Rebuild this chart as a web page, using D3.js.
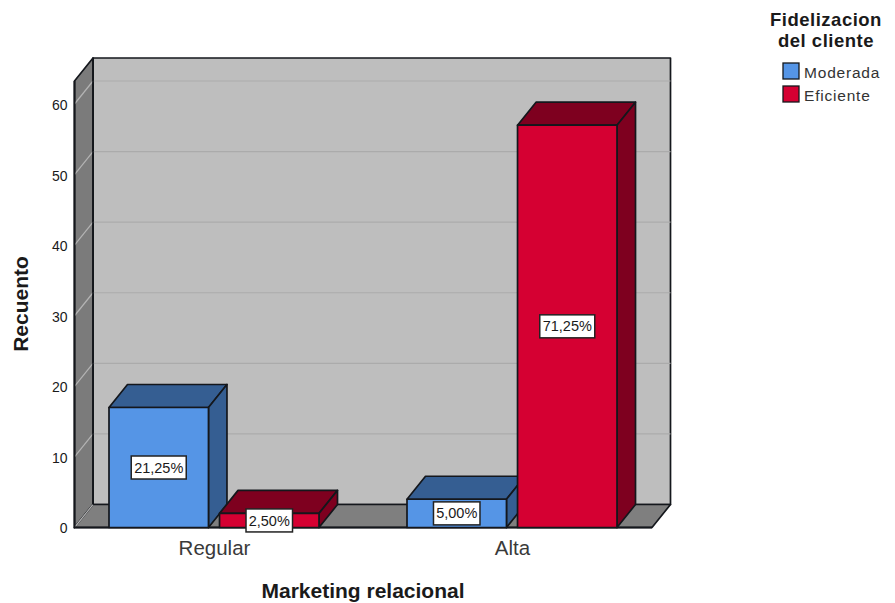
<!DOCTYPE html>
<html>
<head>
<meta charset="utf-8">
<script src="https://cdn.jsdelivr.net/npm/d3@7/dist/d3.min.js"></script>
<style>
html,body{margin:0;padding:0;background:#fff}
svg{display:block}
text{font-family:"Liberation Sans",Arial,sans-serif;fill:#1a1a1a}
</style>
</head>
<body>
<svg id="chart" width="895" height="603"></svg>
<script>
// Counts per marketing level and loyalty group, n = 80
const categories = ["Regular", "Alta"];
const seriesNames = ["Moderada", "Eficiente"];
const moderada = [17, 4];
const eficiente = [2, 57];
const moderadaLabels = ["21,25%", "5,00%"];
const eficienteLabels = ["2,50%", "71,25%"];
const countTicks = [0, 10, 20, 30, 40, 50, 60];
const faceColors = ["#5595E6", "#D50032"];
const shadeColors = ["#355E92", "#7E001F"];

const svg = d3.select("#chart");
const depth = {x: 18.5, y: -23};
const plot = {left: 74.5, right: 652, floor: 527.5, top: 81};

const y = d3.scaleLinear().domain([0, 60]).range([plot.floor, 104]);
const x0 = d3.scalePoint().domain(categories).range([214, 512]);
const x1 = d3.scaleBand().domain(seriesNames).range([-105, 105]).paddingInner(0.1);
const color = d3.scaleOrdinal(seriesNames, faceColors);
const shade = d3.scaleOrdinal(seriesNames, shadeColors);

const outline = "#14171c";
const poly = (pts, fill, stroke = outline, width = 1.7) =>
  svg.append("polygon")
    .attr("points", pts.map(p => p.join(",")).join(" "))
    .attr("fill", fill).attr("stroke", stroke)
    .attr("stroke-width", width).attr("stroke-linejoin", "round");

// Box walls: back, left and floor
const bk = p => [p[0] + depth.x, p[1] + depth.y];
const fl = [plot.left, plot.floor], fr = [plot.right, plot.floor];
const tl = [plot.left, plot.top], tr = [plot.right, plot.top];
poly([bk(tl), bk(tr), bk(fr), bk(fl)], "#BEBEBE");
poly([tl, bk(tl), bk(fl), fl], "#7B7B7B");
poly([fl, bk(fl), bk(fr), fr], "#7F7F7F");

// Gridlines run along the back wall and fold down the left wall
const grid = svg.append("g");
countTicks.forEach(t => {
  const yy = y(t);
  if (t > 0) {
    grid.append("line")
      .attr("x1", plot.left + depth.x).attr("x2", plot.right + depth.x)
      .attr("y1", yy + depth.y).attr("y2", yy + depth.y)
      .attr("stroke", "#ABABAB").attr("stroke-width", 1.2);
  }
  grid.append("line")
    .attr("x1", plot.left).attr("x2", plot.left + depth.x)
    .attr("y1", yy).attr("y2", yy + depth.y)
    .attr("stroke", "#B4B4B4").attr("stroke-width", 1.2);
});
// Repaint the inner edges over the gridline ends
svg.append("line").attr("x1", bk(tl)[0]).attr("x2", bk(fl)[0])
  .attr("y1", bk(tl)[1]).attr("y2", bk(fl)[1])
  .attr("stroke", outline).attr("stroke-width", 1.7);

// Axes
const yAxis = d3.axisLeft(y).tickValues(countTicks).tickFormat(d3.format("d"))
  .tickSize(0).tickPadding(7);
const yG = svg.append("g").attr("transform", `translate(${plot.left},1)`).call(yAxis);
yG.select(".domain").remove();
yG.selectAll("text").style("font-size", "14px").attr("fill", "#1a1a1a");

const xAxis = d3.axisBottom(x0).tickSize(0).tickPadding(13);
const xG = svg.append("g").attr("transform", `translate(0,${plot.floor})`).call(xAxis);
xG.select(".domain").remove();
xG.selectAll("text").style("font-size", "20.5px").style("fill", "#3a3a3a");

// Front edges of the box
svg.append("path")
  .attr("d", `M${plot.left},${plot.top}V${plot.floor}H${plot.right}`)
  .attr("fill", "none").attr("stroke", outline).attr("stroke-width", 1.9);

// Bars: top and side faces first, front face over them
const rows = categories.flatMap((c, i) => [
  {cat: c, name: seriesNames[0], value: moderada[i], label: moderadaLabels[i]},
  {cat: c, name: seriesNames[1], value: eficiente[i], label: eficienteLabels[i]}
]);
rows.forEach(d => {
  const a = x0(d.cat) + x1(d.name), b = a + x1.bandwidth();
  const t = y(d.value), f = y(0);
  poly([[a, t], bk([a, t]), bk([b, t]), [b, t]], shade(d.name));
  poly([[b, t], bk([b, t]), bk([b, f]), [b, f]], shade(d.name));
  poly([[a, t], [b, t], [b, f], [a, f]], color(d.name));
});

// Value labels in boxes at the middle of each front face
rows.forEach(d => {
  const cx = x0(d.cat) + x1(d.name) + x1.bandwidth() / 2;
  const cy = (y(d.value) + y(0)) / 2;
  const g = svg.append("g").attr("transform", `translate(${cx},${cy})`);
  const w = d.label.length === 6 ? 55 : 46.5;
  g.append("rect").attr("x", -w / 2).attr("y", -11.5).attr("width", w).attr("height", 23)
    .attr("fill", "#fff").attr("stroke", "#222").attr("stroke-width", 1.5);
  g.append("text").attr("text-anchor", "middle").attr("dy", "0.35em")
    .style("font-size", "14.5px").text(d.label);
});

// Axis titles
svg.append("text").attr("transform", "translate(28,304) rotate(-90)")
  .attr("text-anchor", "middle").style("font-size", "21px").style("font-weight", "bold")
  .text("Recuento");
svg.append("text").attr("x", 363).attr("y", 598)
  .attr("text-anchor", "middle").style("font-size", "21px").style("font-weight", "bold")
  .text("Marketing relacional");

// Legend
const legendTitle = ["Fidelizacion", "del cliente"];
legendTitle.forEach((s, i) => svg.append("text")
  .attr("x", 826).attr("y", 26 + i * 21)
  .attr("text-anchor", "middle").style("font-size", "18.5px").style("font-weight", "bold")
  .style("letter-spacing", "0.5px").text(s));
seriesNames.forEach((s, i) => {
  const ly = 63 + i * 23;
  svg.append("rect").attr("x", 783).attr("y", ly).attr("width", 16).attr("height", 16)
    .attr("fill", color(s)).attr("stroke", outline).attr("stroke-width", 1.3);
  svg.append("text").attr("x", 804).attr("y", ly + 15)
    .style("font-size", "15.5px").style("letter-spacing", "0.8px").style("fill", "#333").text(s);
});
</script>
</body>
</html>
